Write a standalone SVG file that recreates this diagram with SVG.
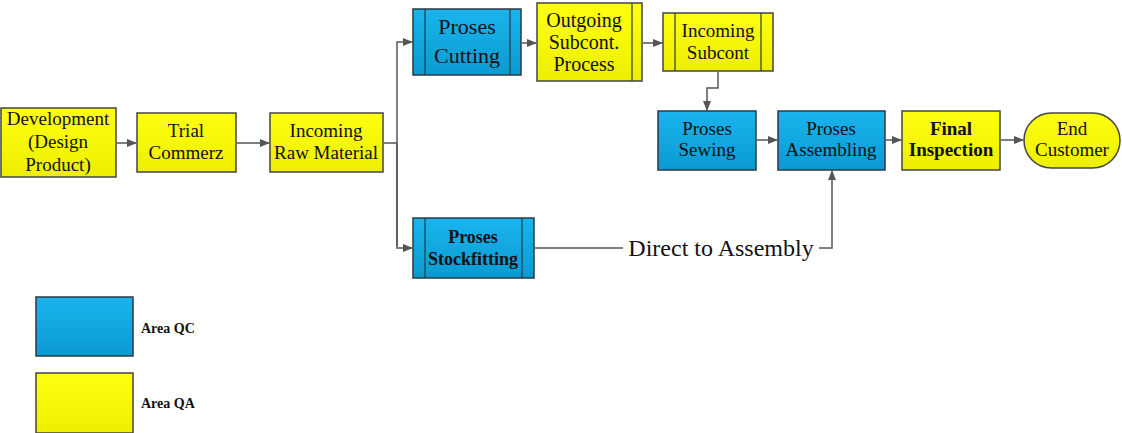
<svg xmlns="http://www.w3.org/2000/svg" width="1122" height="433" viewBox="0 0 1122 433" font-family="'Liberation Serif', 'Times New Roman', serif">
<defs>
<linearGradient id="gb" x1="0" y1="0" x2="0" y2="1"><stop offset="0" stop-color="#1ab4ee"/><stop offset="1" stop-color="#0a9ad2"/></linearGradient>
<linearGradient id="gy" x1="0" y1="0" x2="0" y2="1"><stop offset="0" stop-color="#ffff10"/><stop offset="1" stop-color="#eeee00"/></linearGradient>
<marker id="ah" markerWidth="10" markerHeight="8" refX="9" refY="4" orient="auto" markerUnits="userSpaceOnUse"><path d="M0,0 L10,4 L0,8 Z" fill="#555"/></marker>
</defs>
<style>
.b{fill:url(#gb);stroke:#2a3a44;stroke-width:1.5}
.y{fill:url(#gy);stroke:#444;stroke-width:1.5}
.in{stroke:#2a3a44;stroke-width:1.2}
.lbl{font-family:'Liberation Serif','Times New Roman',serif;font-size:19px;fill:#111;text-anchor:middle}
.bd{font-weight:bold}
.c{fill:none;stroke:#555;stroke-width:1.5}
.lg{font-family:'Liberation Serif','Times New Roman',serif;font-size:14px;font-weight:bold;fill:#111}
</style>
<rect width="1122" height="433" fill="#fff"/>
<g id="connectors">
<line class="c" x1="117" y1="143" x2="136" y2="143" marker-end="url(#ah)"/>
<line class="c" x1="237" y1="143" x2="269" y2="143" marker-end="url(#ah)"/>
<polyline class="c" points="384,143 397,143"/>
<polyline class="c" points="397,246 397,42 412,42" marker-end="url(#ah)"/>
<polyline class="c" points="397,143 397,248 412,248" marker-end="url(#ah)"/>
<line class="c" x1="522" y1="43" x2="536" y2="43" marker-end="url(#ah)"/>
<line class="c" x1="643" y1="43" x2="662" y2="43" marker-end="url(#ah)"/>
<polyline class="c" points="718,72 718,88 707,88 707,110" marker-end="url(#ah)"/>
<line class="c" x1="757" y1="140" x2="777" y2="140" marker-end="url(#ah)"/>
<line class="c" x1="886" y1="140" x2="901" y2="140" marker-end="url(#ah)"/>
<line class="c" x1="1001" y1="140" x2="1023" y2="140" marker-end="url(#ah)"/>
<line class="c" x1="535" y1="248" x2="623" y2="248"/>
<polyline class="c" points="819,248 832,248 832,171" marker-end="url(#ah)"/>
<text x="721" y="256" font-size="24" fill="#111" text-anchor="middle">Direct to Assembly</text>
</g>
<g id="development">
<rect class="y" x="1" y="108" width="115" height="69"/>
<text class="lbl" x="58" y="125" style="font-family:'Liberation Serif',serif">Development</text>
<text class="lbl" x="58" y="148" style="font-family:'Liberation Serif',serif">(Design</text>
<text class="lbl" x="58" y="171" style="font-family:'Liberation Serif',serif">Product)</text>
</g>
<g id="trial">
<rect class="y" x="137" y="113" width="99" height="59"/>
<text class="lbl" x="186" y="137" style="font-family:'Liberation Serif',serif">Trial</text>
<text class="lbl" x="186" y="159" style="font-family:'Liberation Serif',serif">Commerz</text>
</g>
<g id="incoming-raw">
<rect class="y" x="270" y="113" width="113" height="59"/>
<text class="lbl" x="326" y="137" style="font-family:'Liberation Serif',serif">Incoming</text>
<text class="lbl" x="326" y="159" style="font-family:'Liberation Serif',serif">Raw Material</text>
</g>
<g id="cutting">
<rect class="b" x="413" y="9" width="108" height="66"/>
<line class="in" x1="425" y1="9" x2="425" y2="75"/>
<line class="in" x1="510" y1="9" x2="510" y2="75"/>
<text class="lbl" x="467" y="34" style="font-family:'Liberation Serif',serif;font-size:22px">Proses</text>
<text class="lbl" x="467" y="63" style="font-family:'Liberation Serif',serif;font-size:22px">Cutting</text>
</g>
<g id="outgoing">
<rect class="y" x="537" y="3" width="105" height="78"/>
<line class="in" x1="632" y1="3" x2="632" y2="81"/>
<text class="lbl" x="584" y="27" style="font-family:'Liberation Serif',serif;font-size:20px">Outgoing</text>
<text class="lbl" x="584" y="49" style="font-family:'Liberation Serif',serif;font-size:20px">Subcont.</text>
<text class="lbl" x="584" y="71" style="font-family:'Liberation Serif',serif;font-size:20px">Process</text>
</g>
<g id="incoming-subcont">
<rect class="y" x="663" y="13" width="110" height="58"/>
<line class="in" x1="675" y1="13" x2="675" y2="71"/>
<line class="in" x1="761" y1="13" x2="761" y2="71"/>
<text class="lbl" x="718" y="37" style="font-family:'Liberation Serif',serif">Incoming</text>
<text class="lbl" x="718" y="59" style="font-family:'Liberation Serif',serif">Subcont</text>
</g>
<g id="sewing">
<rect class="b" x="658" y="111" width="98" height="59"/>
<text class="lbl" x="707" y="135" style="font-family:'Liberation Serif',serif">Proses</text>
<text class="lbl" x="707" y="156" style="font-family:'Liberation Serif',serif">Sewing</text>
</g>
<g id="assembling">
<rect class="b" x="778" y="111" width="107" height="59"/>
<text class="lbl" x="831" y="135" style="font-family:'Liberation Serif',serif">Proses</text>
<text class="lbl" x="831" y="156" style="font-family:'Liberation Serif',serif">Assembling</text>
</g>
<g id="final">
<rect class="y" x="902" y="111" width="98" height="59"/>
<text class="lbl bd" x="951" y="135" style="font-family:'Liberation Serif',serif">Final</text>
<text class="lbl bd" x="951" y="156" style="font-family:'Liberation Serif',serif">Inspection</text>
</g>
<g id="end">
<rect class="y" x="1024" y="113" width="96" height="55" rx="27.5" ry="27.5"/>
<text class="lbl" x="1072" y="135" style="font-family:'Liberation Serif',serif">End</text>
<text class="lbl" x="1072" y="156" style="font-family:'Liberation Serif',serif">Customer</text>
</g>
<g id="stockfitting">
<rect class="b" x="413" y="218" width="121" height="60"/>
<line class="in" x1="425" y1="218" x2="425" y2="278"/>
<line class="in" x1="522" y1="218" x2="522" y2="278"/>
<text class="lbl bd" x="473" y="243" style="font-family:'Liberation Serif',serif;font-size:18px">Proses</text>
<text class="lbl bd" x="473" y="265" style="font-family:'Liberation Serif',serif;font-size:18px">Stockfitting</text>
</g>
<g id="legend-qc">
<rect class="b" x="36" y="297" width="97" height="59"/>
<text class="lg" x="141" y="333">Area QC</text>
</g>
<g id="legend-qa">
<rect class="y" x="36" y="373" width="97" height="60"/>
<text class="lg" x="141" y="408">Area QA</text>
</g>
</svg>
